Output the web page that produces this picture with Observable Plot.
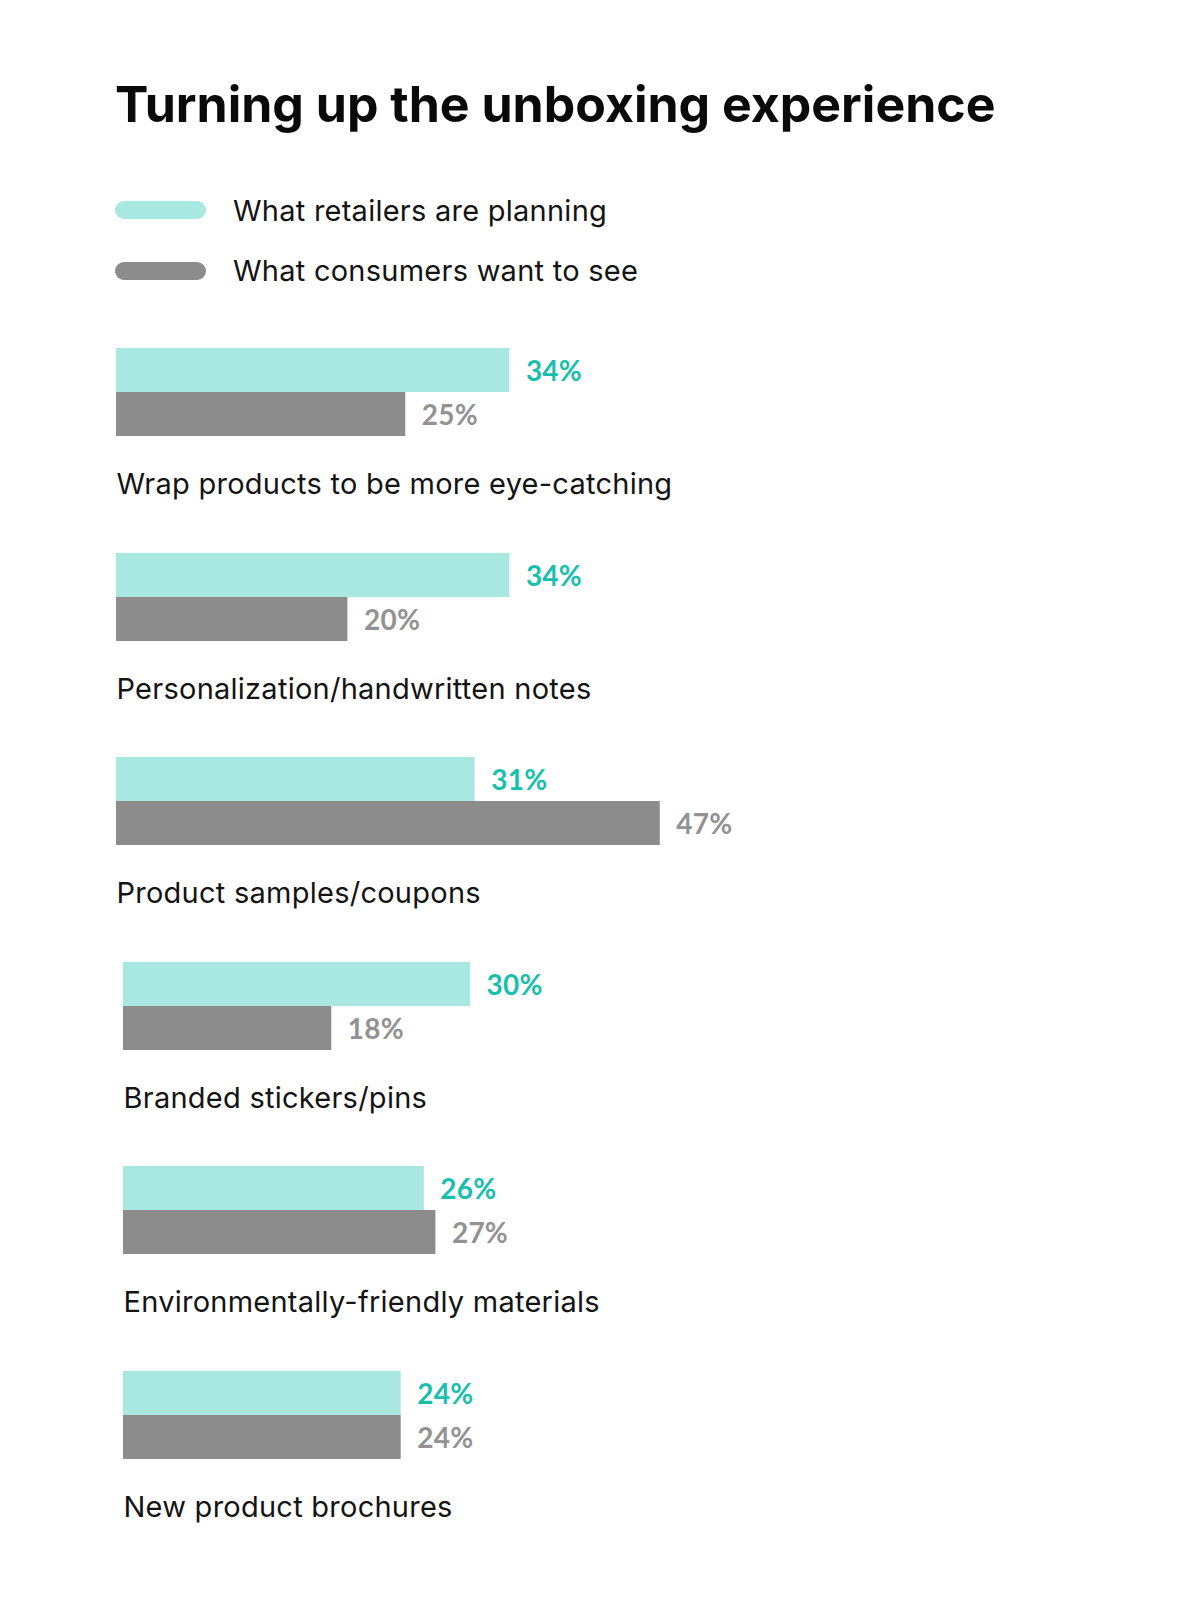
<!DOCTYPE html>
<html>
<head>
<meta charset="utf-8">
<script src="https://cdn.jsdelivr.net/npm/d3@7"></script>
<script src="https://cdn.jsdelivr.net/npm/@observablehq/plot@0.6"></script>
<style>
  html, body { margin: 0; padding: 0; background: #fff; }
  #page { position: relative; width: 1188px; height: 1600px; font-family: Inter, "Noto Sans", sans-serif; color: #141414; }
  h1 { position: absolute; left: 115px; top: 77.5px; margin: 0; font-size: 50px; line-height: 52px; font-weight: 700; color: #0a0a0a; letter-spacing: 0; white-space: nowrap; }
  #legend { position: absolute; left: 115px; top: 180px; }
  .row { display: flex; align-items: center; height: 60.5px; }
  .swatch { width: 91px; height: 18px; border-radius: 9px; margin-right: 27px; }
  .row span { font-size: 29px; line-height: 29px; font-weight: 400; letter-spacing: 0.25px; white-space: nowrap; }
  #charts { position: absolute; left: 115.5px; top: 348.3px; }
  #charts svg { display: block; overflow: visible; }
</style>
</head>
<body>
<div id="page">
  <h1>Turning up the unboxing experience</h1>
  <div id="legend"></div>
  <div id="charts"></div>
</div>
<script>
// Survey categories and the two series of percentages
const categories = [
  "Wrap products to be more eye-catching",
  "Personalization/handwritten notes",
  "Product samples/coupons",
  "Branded stickers/pins",
  "Environmentally-friendly materials",
  "New product brochures"
];
const retailers = [34, 34, 31, 30, 26, 24];
const consumers = [25, 20, 47, 18, 27, 24];
const seriesNames = ["What retailers are planning", "What consumers want to see"];
const barColors = ["#a8e8e1", "#8c8c8c"];
const labelColors = ["#19bfac", "#929292"];

// Legend
const legend = document.getElementById("legend");
seriesNames.forEach((name, i) => {
  const row = document.createElement("div");
  row.className = "row";
  const sw = document.createElement("div");
  sw.className = "swatch";
  sw.style.background = barColors[i];
  const label = document.createElement("span");
  label.textContent = name;
  row.append(sw, label);
  legend.append(row);
});

// One small bar panel per category, sharing the same x scale
const charts = document.getElementById("charts");
const bodyFont = "Inter, 'Noto Sans', sans-serif";
const numberFont = "Lato, 'Noto Sans', sans-serif";
categories.forEach((cat, i) => {
  const rows = [
    {series: seriesNames[0], value: retailers[i]},
    {series: seriesNames[1], value: consumers[i]}
  ];
  const chart = Plot.plot({
    width: 800,
    height: 204.5,
    marginTop: 0,
    marginLeft: 0,
    marginRight: 0,
    marginBottom: 116.1,
    style: {fontFamily: bodyFont, background: "transparent", letterSpacing: "0.25px"},
    x: {domain: [0, 50], range: [0, 578.5], axis: null},
    y: {domain: seriesNames, padding: 0, axis: null},
    color: {domain: seriesNames, range: barColors},
    marks: [
      Plot.barX(rows, {x: "value", y: "series", fill: "series"}),
      Plot.text(rows, {
        x: "value", y: "series",
        text: d => `${d.value}%`,
        dx: 16, dy: 2, textAnchor: "start", lineAnchor: "middle",
        fill: d => labelColors[seriesNames.indexOf(d.series)],
        fontFamily: numberFont, fontSize: 28, fontWeight: 700
      }),
      Plot.text([cat], {
        frameAnchor: "bottom-left", textAnchor: "start", lineAnchor: "middle",
        dy: 48, fontSize: 29, fill: "#141414"
      })
    ]
  });
  // the lower three panels sit slightly further in
  if (i >= 3) chart.style.marginLeft = "7.2px";
  charts.append(chart);
});
</script>
</body>
</html>
